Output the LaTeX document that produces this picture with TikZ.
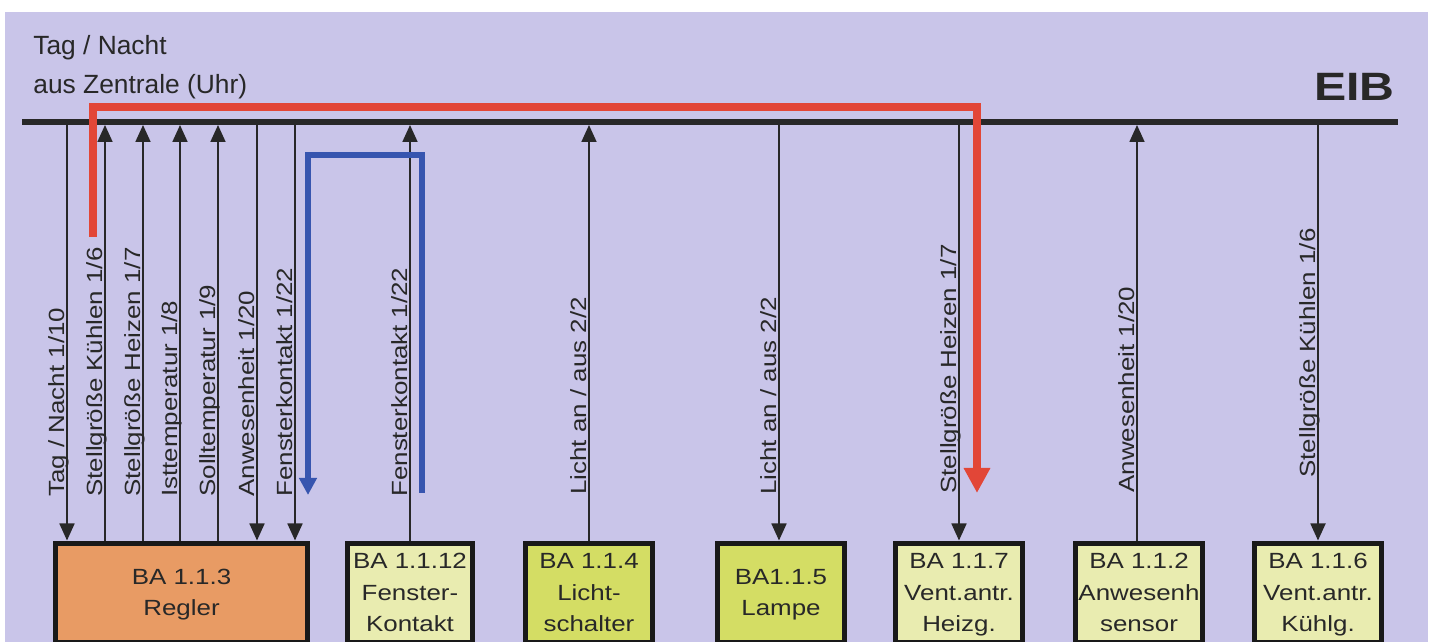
\documentclass[tikz,border=0pt]{standalone}
\usepackage{fontspec}
\setmainfont{Liberation Sans}
\newfontfamily\sigfont{Liberation Sans}[FakeStretch=1.18]
\newfontfamily\eibfont{Liberation Sans}[FakeStretch=1.22]
\usetikzlibrary{arrows.meta}

\definecolor{panel}{RGB}{201,197,233}
\definecolor{ink}{RGB}{40,40,40}
\definecolor{reglerfill}{RGB}{232,155,100}
\definecolor{palefill}{RGB}{233,236,176}
\definecolor{limefill}{RGB}{212,221,100}
\definecolor{sigred}{RGB}{226,70,55}
\definecolor{sigblue}{RGB}{55,85,175}

\tikzset{
    bus/.style={draw=ink, line width=1.2mm},
    flow/.style={draw=ink, line width=0.35mm, -{Triangle[length=3.4mm,width=3mm]}},
    redflow/.style={draw=sigred, line width=1.6mm, -{Triangle[length=5mm,width=5mm]}},
    blueflow/.style={draw=sigblue, line width=1.2mm, -{Triangle[length=3.4mm,width=3.4mm]}},
    lbl/.style={rotate=90, anchor=base west, inner sep=0pt, text=ink,
        font=\sigfont\fontsize{12.5}{15}\selectfont},
    % no depth under the last line, so the text sits a bit lower
    dev/.style={draw=black!90, line width=1mm, anchor=north, align=center,
        minimum width=25.4mm, minimum height=19.8mm, inner sep=0pt, text=ink,
        text depth=0pt, font=\sigfont\fontsize{12.5}{18}\selectfont},
}

\begin{document}
\begin{tikzpicture}[x=0.2mm, y=-0.2mm]
    \useasboundingbox (0,0) rectangle (1439,642);
    \fill[white] (0,0) rectangle (1439,642);
    \fill[panel] (5,12) rectangle (1428,642);

    % the bus
    \coordinate (busL) at (22,122);
    \coordinate (busR) at (1398,122);
    \draw[bus] (busL) -- (busR);
    \node[anchor=base east, inner sep=0pt, text=ink,
        font=\eibfont\bfseries\fontsize{22.5}{24}\selectfont] (eib) at (1395,101) {EIB};
    \node[anchor=north west, inner sep=0pt, align=left, text=ink,
        font=\fontsize{15}{22}\selectfont] (src) at (33,35) {Tag / Nacht\\aus Zentrale (Uhr)};

    % bus devices
    \node[dev, fill=reglerfill, minimum width=50.4mm] (regler) at (181.5,540.5) {BA 1.1.3\\Regler};
    \node[dev, fill=palefill, minimum width=25mm] (fenster) at (410,540.5) {BA 1.1.12\\Fenster-\\Kontakt};
    \node[dev, fill=limefill] (lichtsch) at (589,540.5) {BA 1.1.4\\Licht-\\schalter};
    \node[dev, fill=limefill] (lampe) at (781,540.5) {BA1.1.5\\Lampe};
    \node[dev, fill=palefill] (heizg) at (959,540.5) {BA 1.1.7\\Vent.antr.\\Heizg.};
    \node[dev, fill=palefill] (anwes) at (1139,540.5) {BA 1.1.2\\Anwesenh\\sensor};
    \node[dev, fill=palefill] (kuehlg) at (1318,540.5) {BA 1.1.6\\Vent.antr.\\Kühlg.};

    % taps on the bus
    \coordinate (t1) at (67,125);
    \coordinate (t2) at (105,125);
    \coordinate (t3) at (143,125);
    \coordinate (t4) at (180,125);
    \coordinate (t5) at (218,125);
    \coordinate (t6) at (257,125);
    \coordinate (t7) at (295,125);
    \coordinate (t8) at (410,125);
    \coordinate (t9) at (589,125);
    \coordinate (t10) at (779,125);
    \coordinate (t11) at (959,125);
    \coordinate (t12) at (1137,125);
    \coordinate (t13) at (1318,125);

    % group addresses
    \draw[flow] (t1) -- (regler.north -| t1);
    \draw[flow] (regler.north -| t2) -- (t2);
    \draw[flow] (regler.north -| t3) -- (t3);
    \draw[flow] (regler.north -| t4) -- (t4);
    \draw[flow] (regler.north -| t5) -- (t5);
    \draw[flow] (t6) -- (regler.north -| t6);
    \draw[flow] (t7) -- (regler.north -| t7);
    \draw[flow] (fenster.north -| t8) -- (t8);
    \draw[flow] (lichtsch.north -| t9) -- (t9);
    \draw[flow] (t10) -- (lampe.north -| t10);
    \draw[flow] (t11) -- (heizg.north -| t11);
    \draw[flow] (anwes.north -| t12) -- (t12);
    \draw[flow] (t13) -- (kuehlg.north -| t13);

    \node[lbl] (l1) at (64,497) {Tag / Nacht 1/10};
    \node[lbl] (l2) at (102,497) {Stellgröße Kühlen 1/6};
    \node[lbl] (l3) at (140,497) {Stellgröße Heizen 1/7};
    \node[lbl] (l4) at (177,497) {Isttemperatur 1/8};
    \node[lbl] (l5) at (215,497) {Solltemperatur 1/9};
    \node[lbl] (l6) at (254,497) {Anwesenheit 1/20};
    \node[lbl] (l7) at (292,497) {Fensterkontakt 1/22};
    \node[lbl] (l8) at (407,497) {Fensterkontakt 1/22};
    \node[lbl] (l9) at (586,495) {Licht an / aus 2/2};
    \node[lbl] (l10) at (776,495) {Licht an / aus 2/2};
    \node[lbl] (l11) at (956,494) {Stellgröße Heizen 1/7};
    \node[lbl] (l12) at (1134,493) {Anwesenheit 1/20};
    \node[lbl] (l13) at (1315,478) {Stellgröße Kühlen 1/6};

    % Kuehlen -> Heizen path and window contact path
    \coordinate (redstart) at (93,237);
    \coordinate (redturn) at (977,107);
    \coordinate (redend) at (977,493);
    \draw[redflow] (redstart) |- (redturn) -- (redend);
    \coordinate (bluestart) at (422,493);
    \coordinate (blueturn) at (308,155);
    \coordinate (blueend) at (308,495);
    \draw[blueflow] (bluestart) |- (blueturn) -- (blueend);
\end{tikzpicture}
\end{document}
